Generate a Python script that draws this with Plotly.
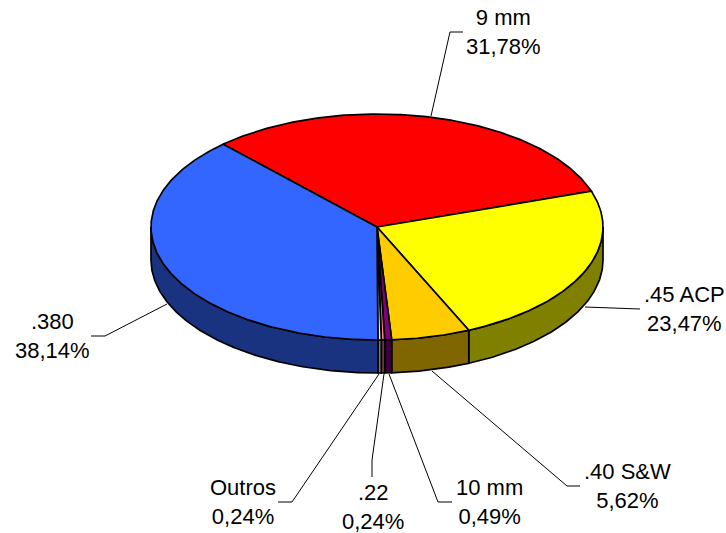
import math
import plotly.graph_objects as go

# --- data ---
categories = ["9 mm", ".45 ACP", ".40 S&W", "10 mm", ".22", "Outros", ".380"]
shares = [31.78, 23.47, 5.62, 0.49, 0.24, 0.24, 38.14]
percent_labels = ["31,78%", "23,47%", "5,62%", "0,49%", "0,24%", "0,24%", "38,14%"]

# --- styling ---
top_colors = ["#FF0000", "#FFFF00", "#FFCC00", "#800080", "#FF8080", "#CCFFFF", "#3366FF"]
side_colors = ["#800000", "#808000", "#806600", "#400040", "#804040", "#668080", "#1A3380"]

# --- geometry (pixel space of the pictured pie) ---
CX, CY, RX, RY, DEPTH = 377.0, 227.0, 226.0, 113.0, 33.0
START_ANGLE = -42.9

label_pos = [(503.5, 32), (684, 309), (627, 486), (489, 502), (372.5, 507), (243, 502), (52, 336)]
leaders = [
    [(431, 116), (450, 32), (463, 32)],
    [(585, 307), (640, 309)],
    [(432, 371), (567, 486), (580, 486)],
    [(389, 374), (438, 502), (452, 502)],
    [(384, 374), (375, 440), (372, 460), (372, 477)],
    [(379, 374), (292, 502), (278, 502)],
    [(167, 304), (105, 336), (91, 336)],
]


def pt(angle, z=0.0):
    a = math.radians(angle)
    return CX + RX * math.sin(a), CY - RY * math.cos(a) + z


def arc(a0, a1):
    n = max(2, int(abs(a1 - a0) * 2) + 2)
    return [a0 + (a1 - a0) * i / (n - 1) for i in range(n)]


total = sum(shares)
bounds = [START_ANGLE]
for s in shares:
    bounds.append(bounds[-1] + s / total * 360.0)

fig = go.Figure()


def poly(points, fill):
    xs, ys = zip(*points)
    fig.add_trace(go.Scatter(
        x=list(xs), y=list(ys), mode="lines", fill="toself", fillcolor=fill,
        line=dict(color="#000000", width=1.7), hoverinfo="skip", showlegend=False,
    ))


# side walls: only the front half (90..270 degrees) of the rim can be seen
for i, c in enumerate(side_colors):
    a0, a1 = max(bounds[i], 90.0), min(bounds[i + 1], 270.0)
    if a1 <= a0:
        continue
    top = [pt(a) for a in arc(a0, a1)]
    bottom = [pt(a, DEPTH) for a in arc(a1, a0)]
    poly(top + bottom + [top[0]], c)

# top faces
for i, c in enumerate(top_colors):
    rim = [pt(a) for a in arc(bounds[i], bounds[i + 1])]
    poly([(CX, CY)] + rim + [(CX, CY)], c)

# leader lines
for line in leaders:
    xs, ys = zip(*line)
    fig.add_trace(go.Scatter(
        x=list(xs), y=list(ys), mode="lines", line=dict(color="#000000", width=1),
        hoverinfo="skip", showlegend=False,
    ))

# labels
for name, pct, (x, y) in zip(categories, percent_labels, label_pos):
    fig.add_annotation(
        x=x, y=y, text=f"{name}<br>{pct}", showarrow=False, align="center",
        xanchor="center", yanchor="middle",
        font=dict(family="Liberation Sans, Arial, sans-serif", size=22, color="#000000"),
    )

fig.update_layout(
    width=726, height=533, margin=dict(l=0, r=0, t=0, b=0),
    paper_bgcolor="#FFFFFF", plot_bgcolor="#FFFFFF", showlegend=False,
    xaxis=dict(range=[0, 726], visible=False, fixedrange=True),
    yaxis=dict(range=[533, 0], visible=False, fixedrange=True),
)
fig.write_html("out.html", config={"displayModeBar": False},
               post_script="document.body.style.margin='0';document.documentElement.style.overflow='hidden';")
